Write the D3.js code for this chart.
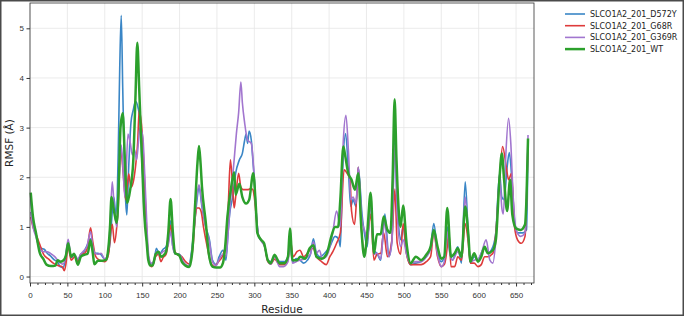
<!DOCTYPE html>
<html>
<head>
<meta charset="utf-8">
<script src="https://cdn.jsdelivr.net/npm/d3@7"></script>
<style>
  body { margin: 0; background: #fff; }
  svg { display: block; font-family: "DejaVu Sans", sans-serif; }
  .grid line { stroke: #e6e6e6; stroke-width: 0.8; }
  .axis path, .axis line { stroke: #333; }
  .axis text { font-size: 8px; fill: #333; }
</style>
</head>
<body>
<div id="chart"></div>
<script>
/* CONSTANTS */
const width = 684,
  height = 316,
  margin = { top: 3, bottom: 33, left: 30, right: 150 };

/* DATA: [residue, RMSF] */
const seriesNames = ["SLCO1A2_201_D572Y", "SLCO1A2_201_G68R", "SLCO1A2_201_G369R", "SLCO1A2_201_WT"];
const seriesColors = ["#3a86c6", "#de3b3b", "#a276cf", "#2ca02c"];
const xTicks = [0, 50, 100, 150, 200, 250, 300, 350, 400, 450, 500, 550, 600, 650];
const yTicks = [0, 1, 2, 3, 4, 5];

const d572y = [[1,1.6],[4,1.1],[8,0.85],[12,0.6],[15,0.57],[19,0.55],[23,0.47],[27,0.42],[33,0.33],[37,0.3],[40,0.2],[44,0.18],[47,0.3],[51,0.7],[55,0.38],[59,0.43],[64,0.35],[68,0.45],[72,0.5],[76,0.62],[81,0.76],[84,0.55],[87,0.47],[91,0.47],[95,0.44],[100,0.35],[104,0.45],[107,0.67],[110,1.3],[112,1.6],[115,1.25],[118,2.5],[120,4.2],[122,5.26],[124,3.8],[126,2.4],[128,1.5],[129.5,1.24],[132,2.2],[135,3.1],[138,3.35],[141,3.53],[144.5,3.4],[147.5,3.08],[150,2.2],[152,1.76],[154,1.22],[157.6,0.47],[161,0.27],[165,0.25],[169,0.57],[173,0.45],[178,0.55],[182,0.6],[185,0.8],[187.6,1.13],[191,0.6],[195,0.45],[200,0.45],[205,0.27],[212,0.2],[216,0.5],[219,0.9],[223,1.5],[226,1.8],[230,1.4],[235,1.0],[240,0.74],[244,0.33],[249,0.24],[253,0.4],[258,0.53],[262,0.33],[265,0.9],[267,1.26],[271,1.6],[275,2.08],[280,2.35],[284,2.48],[287,2.74],[289,2.87],[291,2.68],[293,2.93],[296,2.74],[298,2.35],[300,1.95],[302,1.41],[306,0.8],[310,0.72],[314,0.6],[318,0.33],[322,0.3],[327,0.4],[334,0.3],[340,0.3],[345,0.4],[348,0.74],[351,0.3],[356,0.36],[361,0.33],[366,0.27],[371,0.33],[375,0.45],[379,0.76],[383,0.47],[388,0.4],[394,0.47],[401,0.6],[408,0.81],[413,0.75],[415,0.6],[418,2.08],[422,2.88],[426,2.08],[429,1.41],[432,1.55],[436,1.41],[439,2.2],[444,1.26],[448,0.8],[451,0.6],[455.5,1.55],[460,0.53],[464,0.47],[469,0.33],[474.6,1.26],[480,0.4],[484,0.74],[487.6,2.74],[491,1.55],[495.6,0.74],[499,1.0],[503.6,0.47],[509,0.24],[516,0.27],[523,0.3],[530,0.4],[535.7,0.6],[540,1.07],[545,0.5],[550,0.3],[554,0.4],[558,1.0],[561,0.6],[565,0.33],[572,0.6],[577,0.27],[582,1.91],[586,0.88],[589,0.27],[594,0.4],[599,0.33],[603.5,0.47],[608,0.6],[612,0.47],[619,0.6],[623,0.9],[628,2.08],[631,1.6],[634,1.55],[638,2.2],[641,2.5],[645,1.8],[648,1.13],[652,0.88],[659,0.88],[664,0.94],[666,2.7]];

const g68r = [[1,1.2],[4,1.0],[8,0.85],[13,0.65],[18,0.45],[25,0.35],[32,0.26],[38,0.22],[43,0.2],[46,0.12],[48,0.25],[51,0.6],[55,0.33],[60,0.4],[64,0.3],[68,0.45],[73,0.47],[77,0.6],[81,0.98],[84,0.7],[88,0.4],[93,0.33],[100,0.3],[105,0.45],[108,0.9],[110,1.05],[113,0.68],[116,1.0],[118,1.4],[121,2.62],[124,2.2],[128,1.55],[132,2.07],[135,1.8],[138,1.9],[141,2.2],[144,2.7],[146,3.35],[148,3.2],[150,2.9],[153,2.0],[156,0.9],[159,0.3],[163,0.2],[168,0.4],[172,0.45],[175,0.3],[178,0.38],[182,0.45],[185,0.7],[188,1.03],[192,0.6],[196,0.45],[203,0.4],[208,0.3],[213,0.25],[218,0.6],[221,1.2],[223,1.38],[226,1.38],[229,1.3],[232,1.0],[237,0.6],[242,0.27],[246.5,0.2],[252,0.3],[257,0.4],[262,0.67],[265,1.38],[268,2.35],[271,1.8],[273,1.38],[275,1.6],[279,2.08],[282,1.8],[285,1.75],[291,1.75],[295,1.77],[298,1.75],[300,1.6],[302,1.3],[305,0.85],[310,0.72],[314,0.6],[318,0.3],[322,0.25],[327,0.35],[334,0.24],[340,0.24],[345,0.35],[348,0.74],[352,0.4],[357,0.5],[361,0.53],[366,0.4],[370,0.45],[374,0.53],[379,0.57],[383,0.4],[390,0.3],[396,0.24],[401,0.4],[405,0.5],[410,0.67],[415,0.88],[420,2.15],[424,2.08],[428,1.95],[430,1.32],[434,1.05],[437,1.65],[439,2.2],[443,1.0],[447,0.53],[451,0.75],[455.5,1.26],[460,0.33],[464,0.45],[469,0.47],[473,0.88],[478,0.4],[484,0.74],[488,1.76],[491,0.68],[495.6,0.45],[499,1.07],[503.6,0.45],[509,0.24],[516,0.24],[523,0.24],[530,0.3],[535.7,0.4],[540,0.88],[545,0.4],[550,0.2],[554,0.24],[558,0.6],[560,0.94],[563,0.2],[568,0.2],[572,0.4],[577,0.33],[582,1.07],[586,0.7],[589,0.27],[594,0.27],[599,0.2],[603.5,0.24],[608,0.4],[612,0.4],[619,0.47],[623,0.88],[628,2.0],[632,2.62],[637,2.2],[640,1.95],[644,2.08],[648,1.0],[652,0.74],[657,0.67],[662,0.81],[664,1.5],[666,2.7]];

const g369r = [[1,1.3],[4,1.0],[8,0.8],[12,0.6],[15,0.52],[19,0.5],[23,0.5],[27,0.47],[33,0.4],[37,0.33],[40,0.28],[44,0.25],[47,0.35],[51,0.75],[55,0.4],[59,0.45],[64,0.35],[68,0.45],[72,0.52],[76,0.6],[81,0.9],[84,0.6],[87,0.47],[91,0.45],[95,0.47],[100,0.35],[104,0.45],[107,1.0],[110,1.91],[113,1.3],[116,1.0],[119,1.9],[122,2.65],[125,2.0],[127,1.6],[131,2.87],[134,2.7],[137,2.45],[140,2.55],[142.5,2.35],[145,2.7],[147,3.0],[151,2.8],[153,2.2],[155,1.5],[157,0.8],[159,0.4],[162,0.27],[165,0.3],[169,0.5],[173,0.45],[178,0.5],[182,0.55],[185,0.65],[188,0.9],[191,0.6],[195,0.45],[200,0.45],[205,0.3],[212,0.22],[216,0.45],[219,0.9],[223,1.6],[226,1.85],[230,1.45],[235,1.0],[240,0.7],[244,0.3],[249,0.22],[253,0.35],[258,0.45],[262,0.4],[265,0.9],[268,1.5],[273,2.35],[276,2.88],[279,3.3],[282,3.92],[284,3.5],[287,3.1],[291,2.75],[296,2.68],[299,2.2],[302,1.4],[306,0.8],[310,0.7],[314,0.6],[318,0.33],[322,0.25],[327,0.4],[334,0.2],[339,0.2],[345,0.3],[348,0.74],[351,0.27],[356,0.3],[361,0.33],[366,0.35],[371,0.4],[375,0.45],[379,0.7],[383,0.47],[387,0.53],[391,0.36],[396,0.4],[401,0.6],[405,0.9],[410,1.32],[415,1.0],[419,2.74],[422.5,3.25],[426,2.48],[429,1.55],[432,1.6],[436,1.47],[439,2.2],[444,1.13],[448,0.9],[451,0.7],[455.5,1.47],[460,0.45],[464,0.47],[469,0.35],[474,1.1],[480,0.4],[484,0.7],[487.6,2.65],[491,1.3],[495.6,0.6],[499,0.74],[503.6,0.45],[509,0.27],[516,0.3],[523,0.3],[530,0.4],[535.7,0.55],[540,0.88],[545,0.45],[550,0.2],[554,0.3],[558,0.9],[561,0.5],[565,0.33],[572,0.5],[577,0.4],[582,1.6],[586,0.85],[589,0.3],[594,0.33],[599,0.35],[603.5,0.47],[610,0.74],[615,0.33],[619,0.27],[623,0.74],[628,2.0],[631,1.38],[633,1.26],[636,2.35],[640,3.19],[643,2.68],[646,1.65],[650,0.94],[656,0.81],[662,0.88],[664,1.6],[666,2.85]];

const wt = [[1,1.69],[4,1.2],[8,0.88],[13,0.48],[18,0.35],[22,0.24],[28,0.21],[34,0.22],[37,0.33],[41,0.3],[45,0.33],[48,0.42],[51,0.67],[55,0.4],[59,0.46],[64,0.24],[68,0.4],[73,0.44],[77,0.46],[81,0.73],[84,0.47],[86,0.25],[91,0.32],[97,0.32],[102,0.34],[104,0.47],[107,1.0],[109,1.6],[112,1.35],[116,1.08],[119,2.0],[121,3.0],[124,3.29],[127,2.3],[130,1.48],[134,1.75],[138,2.3],[141,3.6],[143.5,4.71],[146,3.8],[148,3.0],[150,2.3],[152,1.5],[154,1.0],[156,0.7],[158,0.35],[161,0.22],[164,0.22],[168,0.45],[172,0.5],[175,0.4],[178,0.42],[182,0.5],[185,0.9],[188,1.56],[191,0.9],[194,0.47],[197,0.45],[200,0.42],[203,0.3],[208,0.22],[213,0.19],[217,0.5],[221,1.5],[224,2.3],[226,2.63],[228,2.3],[230,1.8],[235,1.1],[239,0.47],[244,0.2],[249,0.18],[254,0.18],[258,0.27],[261,0.6],[264,1.2],[269,1.8],[273,2.1],[275,1.65],[280,1.87],[284,1.6],[289,1.47],[293,1.54],[298.6,2.08],[302,1.41],[304,0.88],[309,0.74],[313,0.67],[318,0.33],[322,0.27],[327,0.44],[334,0.27],[340,0.27],[345,0.4],[347.6,0.97],[351,0.33],[357,0.33],[361.5,0.4],[368,0.36],[374,0.57],[379,0.63],[383,0.4],[390,0.36],[397,0.47],[403,0.81],[408,1.0],[412,1.0],[415,1.55],[419,2.62],[421,2.48],[425.6,2.08],[430,1.95],[434.5,1.75],[439,2.08],[443,1.0],[447,0.4],[451,0.88],[455.5,1.69],[460,0.47],[464,0.85],[469,0.85],[473,1.21],[478,0.94],[482,0.88],[485,2.0],[487.6,3.57],[490,2.4],[491.5,1.8],[495.6,1.0],[499,1.43],[503.6,0.67],[509,0.27],[516,0.4],[523,0.33],[530,0.44],[535.7,0.6],[540,0.94],[545,0.6],[550,0.36],[554,0.4],[558,1.38],[563,0.4],[568,0.47],[572,0.57],[577,0.4],[582,1.41],[586,0.88],[589,0.3],[594,0.47],[599,0.3],[603.5,0.4],[608,0.6],[612,0.47],[619,0.53],[623,0.74],[628,2.01],[631,2.48],[634,1.95],[638,1.32],[642,1.95],[645,1.25],[650,0.97],[656,0.94],[662,1.05],[664,1.6],[666,2.78]];

const allSeries = [d572y, g68r, g369r, wt];

/* SVG */
const svg = d3.select("#chart")
  .append("svg")
  .attr("width", width)
  .attr("height", height);

// outer frame of the figure
svg.append("rect")
  .attr("x", 0.75).attr("y", 0.75)
  .attr("width", width - 1.5).attr("height", height - 1.5)
  .attr("fill", "none")
  .attr("stroke", "#4a4a4a")
  .attr("stroke-width", 1.5);

/* SCALES */
const xScale = d3.scaleLinear()
  .domain([0, 674])
  .range([margin.left, width - margin.right]);

const yScale = d3.scaleLinear()
  .domain([-0.13, 5.51])
  .range([height - margin.bottom, margin.top]);

// grid lines
svg.append("g").attr("class", "grid")
  .selectAll("line.gx")
  .data(xTicks)
  .join("line")
  .attr("x1", d => xScale(d)).attr("x2", d => xScale(d))
  .attr("y1", margin.top).attr("y2", height - margin.bottom);

svg.append("g").attr("class", "grid")
  .selectAll("line.gy")
  .data(yTicks)
  .join("line")
  .attr("x1", margin.left).attr("x2", width - margin.right)
  .attr("y1", d => yScale(d)).attr("y2", d => yScale(d));

/* LINES */
const lineFunc = d3.line()
  .x(d => xScale(d[0]))
  .y(d => yScale(d[1]))
  .curve(d3.curveMonotoneX);

svg.append("g")
  .selectAll("path.trend")
  .data(allSeries)
  .join("path")
  .attr("class", "trend")
  .attr("fill", "none")
  .attr("stroke", (d, i) => seriesColors[i])
  .attr("stroke-width", (d, i) => i === 3 ? 2.5 : 1.6)
  .attr("stroke-linejoin", "round")
  .attr("d", lineFunc);

/* AXES */
// minor ticks every 10 residues
const minorTicks = d3.range(0, 671, 10).filter(d => d % 50 !== 0);
svg.append("g")
  .attr("class", "axis")
  .attr("transform", `translate(0, ${height - margin.bottom})`)
  .call(d3.axisBottom(xScale).tickValues(minorTicks).tickSize(2).tickFormat(""))
  .call(g => g.select(".domain").remove());

svg.append("g")
  .attr("class", "axis x-axis")
  .attr("transform", `translate(0, ${height - margin.bottom})`)
  .call(d3.axisBottom(xScale).tickValues(xTicks).tickSize(3.5).tickPadding(6).tickSizeOuter(0))
  .call(g => g.select(".domain").remove());

svg.append("g")
  .attr("class", "axis y-axis")
  .attr("transform", `translate(${margin.left}, 0)`)
  .call(d3.axisLeft(yScale).tickValues(yTicks).tickFormat(d3.format("d")).tickSize(3.5).tickPadding(2.5).tickSizeOuter(0))
  .call(g => g.select(".domain").remove());

// plot frame
svg.append("rect")
  .attr("x", margin.left).attr("y", margin.top)
  .attr("width", width - margin.left - margin.right)
  .attr("height", height - margin.top - margin.bottom)
  .attr("fill", "none")
  .attr("stroke", "#333")
  .attr("stroke-width", 0.8);

// axis labels
svg.append("text")
  .attr("x", (margin.left + width - margin.right) / 2)
  .attr("y", 313)
  .attr("text-anchor", "middle")
  .attr("font-size", 10.5)
  .attr("fill", "#222")
  .text("Residue");

svg.append("text")
  .attr("transform", `translate(13, ${(margin.top + height - margin.bottom) / 2}) rotate(-90)`)
  .attr("text-anchor", "middle")
  .attr("font-size", 10.5)
  .attr("fill", "#222")
  .text("RMSF (Å)");

/* LEGEND */
const legend = svg.append("g")
  .selectAll("g")
  .data(seriesNames)
  .join("g")
  .attr("transform", (d, i) => `translate(565, ${14 + i * 11.7})`);

legend.append("line")
  .attr("x1", 0).attr("x2", 20)
  .attr("stroke", (d, i) => seriesColors[i])
  .attr("stroke-width", (d, i) => i === 3 ? 2.5 : 1.6);

legend.append("text")
  .attr("x", 25)
  .attr("dy", "0.35em")
  .attr("font-size", 8)
  .attr("fill", "#222")
  .text(d => d);
</script>
</body>
</html>
